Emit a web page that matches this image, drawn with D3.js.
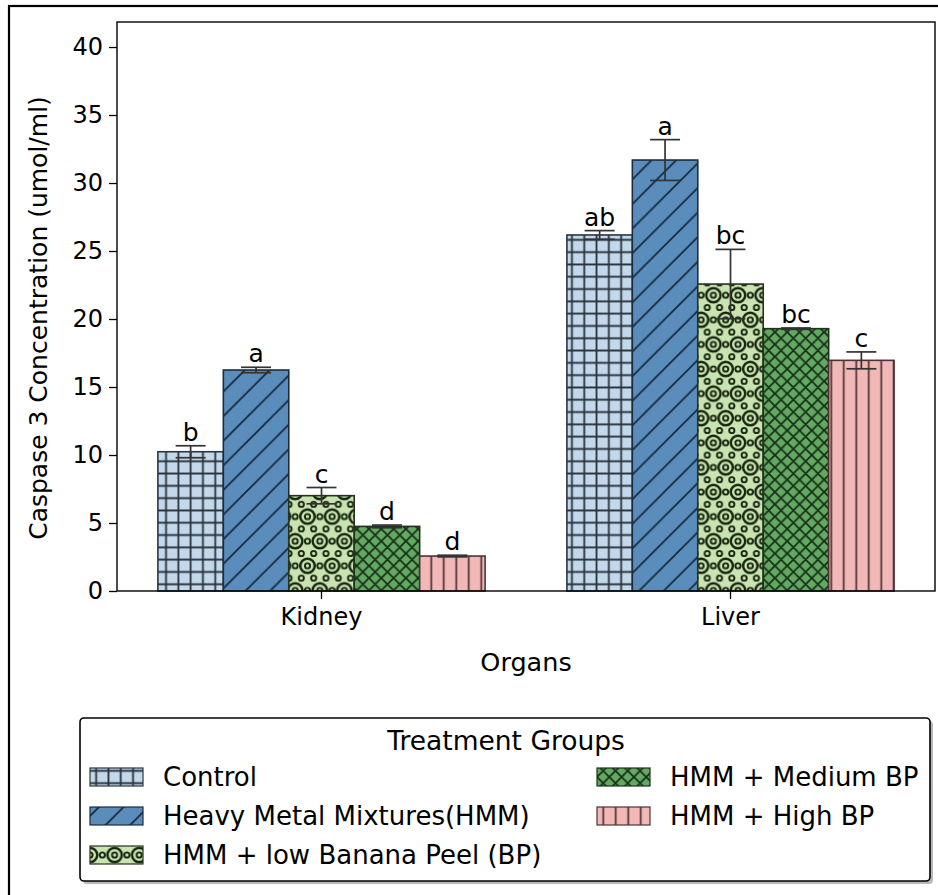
<!DOCTYPE html>
<html>
<head>
<meta charset="utf-8">
<script src="https://cdnjs.cloudflare.com/ajax/libs/d3/7.8.5/d3.min.js"></script>
<style>
  body { margin: 0; background: #fff; }
  svg { display: block; }
  text { font-family: "DejaVu Sans", sans-serif; fill: #000; }
</style>
</head>
<body>
<svg id="chart" width="938" height="895"></svg>
<script>
// data
const organs = ["Kidney", "Liver"];
const groups = ["Control", "Heavy Metal Mixtures(HMM)", "HMM + low Banana Peel (BP)", "HMM + Medium BP", "HMM + High BP"];
const kidneyMeans = [10.24, 16.25, 7.01, 4.75, 2.57];
const kidneyErr = [0.44, 0.2, 0.6, 0.1, 0.06];
const liverMeans = [26.18, 31.69, 22.57, 19.29, 16.96];
const liverErr = [0.32, 1.5, 2.55, 0.05, 0.62];
const kidneyLetters = ["b", "a", "c", "d", "d"];
const liverLetters = ["ab", "a", "bc", "bc", "c"];
const yTicks = [0, 5, 10, 15, 20, 25, 30, 35, 40];

const svg = d3.select("#chart");
svg.append("rect").attr("width", 938).attr("height", 895).attr("fill", "#fff");

// outer figure frame (runs off the right and bottom)
svg.append("rect")
  .attr("x", 9).attr("y", 6).attr("width", 1000).attr("height", 1000)
  .attr("fill", "none").attr("stroke", "#000").attr("stroke-width", 2.2);

const plot = {left: 117, top: 22, right: 935, bottom: 591};

const x0 = d3.scaleBand().domain(organs).range([plot.left, plot.right]);
const x1 = d3.scaleBand().domain(groups).range([0, x0.bandwidth()]).paddingOuter(0.625);
const y = d3.scaleLinear().domain([0, 41.84]).range([plot.bottom, plot.top]);

// hatch patterns
const defs = svg.append("defs");
function pattern(id, w, h, fill){
  let p = defs.append("pattern").attr("id", id)
    .attr("patternUnits", "userSpaceOnUse")
    .attr("width", w).attr("height", h);
  p.append("rect").attr("width", w).attr("height", h).attr("fill", fill);
  return p;
}
const s = 12.3;

// grid
pattern("hatch0", s, s, "#c3d8ea")
  .append("path").attr("d", `M0,${s/2}H${s}M${s/2},0V${s}`)
  .attr("stroke", "#27323c").attr("stroke-width", 1.8);

// single diagonal
let p1 = pattern("hatch1", 2*s, 2*s, "#5a8dbb");
p1.append("path")
  .attr("d", `M${-s},${s}L${s},${-s}M0,${2*s}L${2*s},0M${s},${3*s}L${3*s},${s}`)
  .attr("stroke", "#14273a").attr("stroke-width", 1.7);

// circles
let p2 = pattern("hatch2", 2*s, 4*s, "#c9e3b1");
let small = [], big = [];
for (let k = 0; k <= 4; k++){
  let xs = k % 2 == 0 ? [0, s, 2*s] : [s/2, 1.5*s];
  xs.forEach(v => small.push([v, k*s]));
}
[[0,0],[2*s,0],[0,4*s],[2*s,4*s],[s,2*s]].forEach(c => big.push(c));
p2.selectAll(".sm").data(small).enter().append("circle")
  .attr("cx", d => d[0]).attr("cy", d => d[1]).attr("r", 2.6)
  .attr("fill", "none").attr("stroke", "#16240e").attr("stroke-width", 1.9);
p2.selectAll(".bg").data(big).enter().append("circle")
  .attr("cx", d => d[0]).attr("cy", d => d[1]).attr("r", 7.2)
  .attr("fill", "none").attr("stroke", "#16240e").attr("stroke-width", 2.4);

// cross hatch
pattern("hatch3", s, s, "#64a864")
  .append("path")
  .attr("d", `M0,0L${s},${s}M0,${s}L${s},0M${-s/2},${s/2}L${s/2},${-s/2}M${s/2},${1.5*s}L${1.5*s},${s/2}M${-s/2},${s/2}L${s/2},${1.5*s}M${s/2},${-s/2}L${1.5*s},${s/2}`)
  .attr("stroke", "#143014").attr("stroke-width", 1.8);

// vertical lines
pattern("hatch4", 12.5, 12.5, "#f2b8b8")
  .append("path").attr("d", "M6.25,0V12.5")
  .attr("stroke", "#4a2e2e").attr("stroke-width", 1.7);

const edgeColors = ["#2c3640", "#1d2c3a", "#26331c", "#1d331d", "#4a3434"];

// build rows for drawing
const means = {Kidney: kidneyMeans, Liver: liverMeans};
const errs = {Kidney: kidneyErr, Liver: liverErr};
const letters = {Kidney: kidneyLetters, Liver: liverLetters};
let rows = [];
organs.forEach(o => {
  groups.forEach((g, i) => {
    rows.push({organ: o, group: g, i: i, value: means[o][i], err: errs[o][i], letter: letters[o][i]});
  });
});

// bars
svg.selectAll(".bar")
  .data(rows)
  .enter()
  .append("rect")
  .attr("class", "bar")
  .attr("x", d => x0(d.organ) + x1(d.group))
  .attr("y", d => y(d.value))
  .attr("width", x1.bandwidth())
  .attr("height", d => y(0) - y(d.value))
  .attr("fill", d => "url(#hatch" + d.i + ")")
  .attr("stroke", d => edgeColors[d.i])
  .attr("stroke-width", 1.6);

// error bars
const cx = d => x0(d.organ) + x1(d.group) + x1.bandwidth()/2;
const err = svg.append("g").attr("stroke", "#333").attr("stroke-width", 1.7).attr("fill", "none");
err.selectAll(".ev").data(rows).enter().append("line")
  .attr("x1", cx).attr("x2", cx)
  .attr("y1", d => y(d.value - d.err)).attr("y2", d => y(d.value + d.err));
err.selectAll(".ct").data(rows).enter().append("line")
  .attr("x1", d => cx(d) - 15).attr("x2", d => cx(d) + 15)
  .attr("y1", d => y(d.value + d.err)).attr("y2", d => y(d.value + d.err));
err.selectAll(".cb").data(rows).enter().append("line")
  .attr("x1", d => cx(d) - 15).attr("x2", d => cx(d) + 15)
  .attr("y1", d => y(d.value - d.err)).attr("y2", d => y(d.value - d.err));

// significance letters
svg.selectAll(".letter").data(rows).enter().append("text")
  .attr("class", "letter")
  .attr("x", cx)
  .attr("y", d => y(d.value + d.err) - 5)
  .attr("text-anchor", "middle")
  .attr("font-size", 25)
  .text(d => d.letter);

// axes
const yAxis = svg.append("g")
  .attr("transform", `translate(${plot.left},0)`)
  .call(d3.axisLeft(y).tickValues(yTicks).tickSize(8).tickPadding(6));
const xAxis = svg.append("g")
  .attr("transform", `translate(0,${plot.bottom})`)
  .call(d3.axisBottom(x0).tickSize(8).tickPadding(9));
[yAxis, xAxis].forEach(a => {
  a.select(".domain").remove();
  a.selectAll("line").attr("stroke", "#000").attr("stroke-width", 1.3);
  a.selectAll("text").attr("font-size", 24).attr("font-family", "DejaVu Sans").attr("fill", "#000");
});

// frame
svg.append("rect")
  .attr("x", plot.left).attr("y", plot.top)
  .attr("width", plot.right - plot.left).attr("height", plot.bottom - plot.top)
  .attr("fill", "none").attr("stroke", "#000").attr("stroke-width", 1.4);

// axis labels
svg.append("text")
  .attr("transform", "translate(47,318) rotate(-90)")
  .attr("text-anchor", "middle")
  .attr("font-size", 25)
  .text("Caspase 3 Concentration (umol/ml)");
svg.append("text")
  .attr("x", (plot.left + plot.right)/2).attr("y", 671)
  .attr("text-anchor", "middle")
  .attr("font-size", 25.5)
  .text("Organs");

// legend
const leg = svg.append("g");
leg.append("rect").attr("x", 83).attr("y", 721).attr("width", 850).attr("height", 163)
  .attr("rx", 4).attr("fill", "#888").attr("opacity", 0.6);
leg.append("rect").attr("x", 80).attr("y", 718).attr("width", 850).attr("height", 163)
  .attr("rx", 4).attr("fill", "#fff").attr("stroke", "#000").attr("stroke-width", 1.6);
leg.append("text").attr("x", 506).attr("y", 750).attr("text-anchor", "middle")
  .attr("font-size", 26.5).text("Treatment Groups");

const legPos = [[90, 777], [90, 816], [90, 855], [597, 777], [597, 816]];
const items = leg.selectAll(".item").data(groups).enter().append("g")
  .attr("transform", (d, i) => `translate(${legPos[i][0]},${legPos[i][1]})`);
items.append("rect").attr("x", 0).attr("y", -9).attr("width", 53).attr("height", 18)
  .attr("fill", (d, i) => "url(#hatch" + i + ")")
  .attr("stroke", (d, i) => edgeColors[i]).attr("stroke-width", 1.2);
items.append("text").attr("x", 73).attr("y", 0).attr("dy", "0.36em")
  .attr("font-size", 26).text(d => d);
</script>
</body>
</html>
